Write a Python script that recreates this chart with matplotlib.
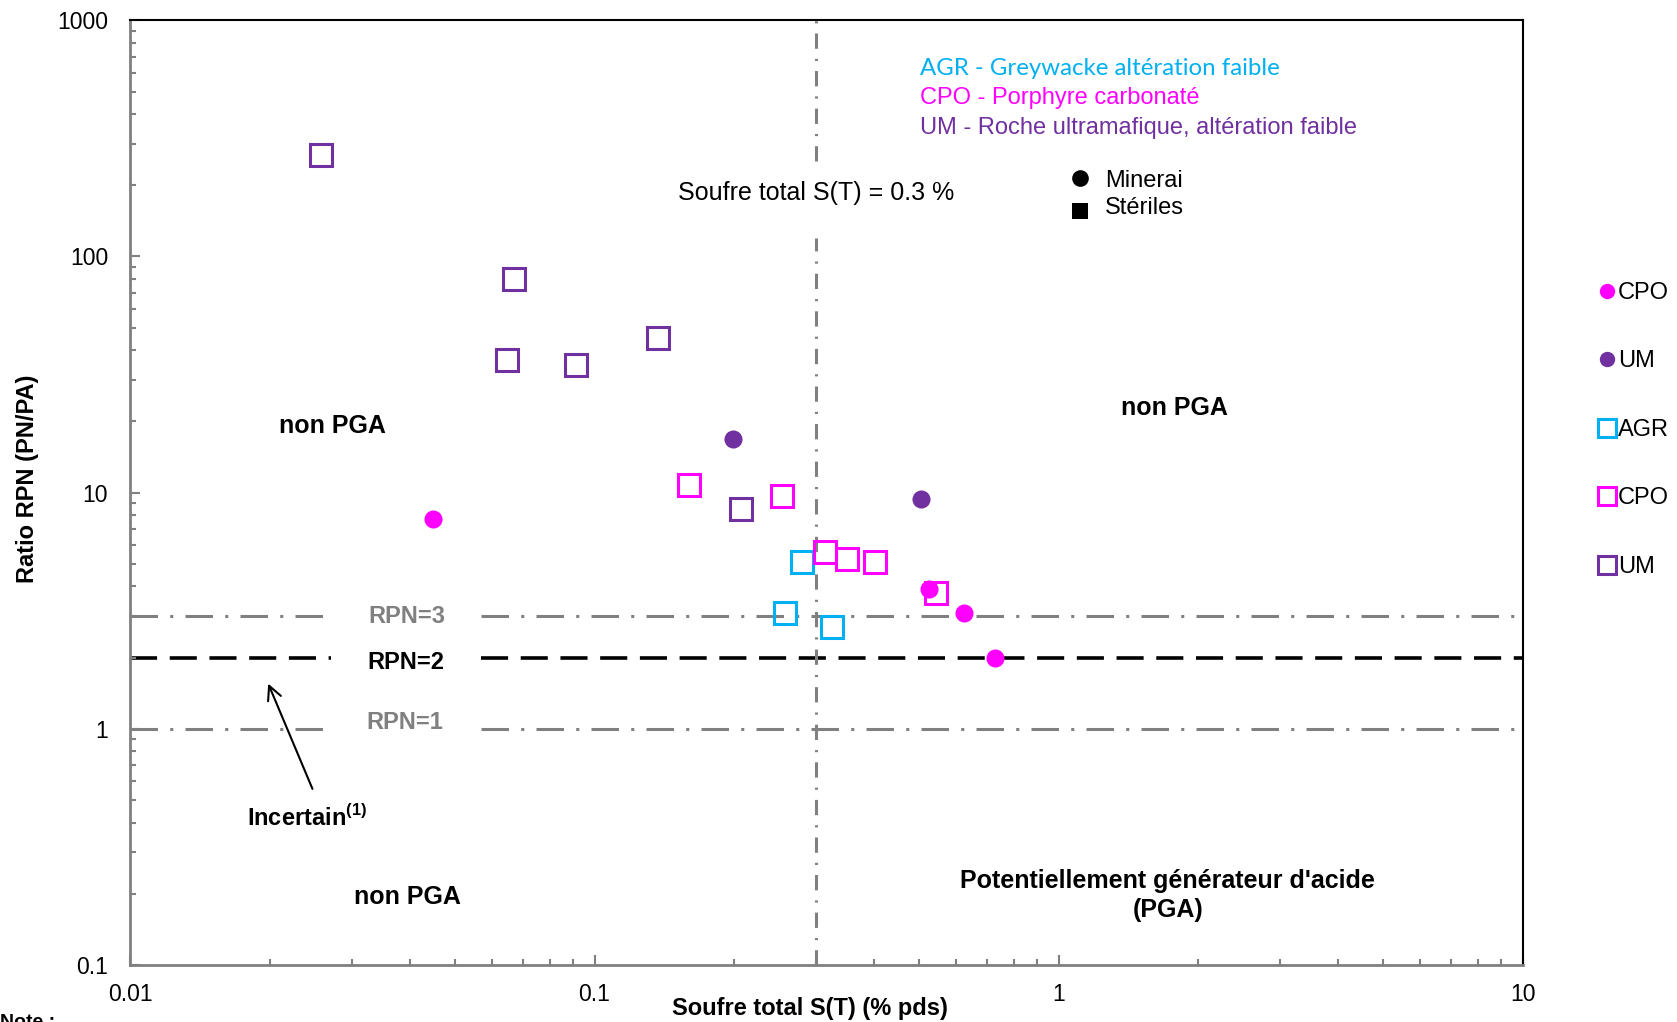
import matplotlib
matplotlib.use("Agg")
import matplotlib.pyplot as plt
from matplotlib.ticker import LogLocator, NullFormatter

plt.rcParams['font.family'] = ['Liberation Sans', 'DejaVu Sans']
plt.rcParams['mathtext.fontset'] = 'custom'
plt.rcParams['mathtext.rm'] = 'Liberation Sans'
plt.rcParams['mathtext.bf'] = 'Liberation Sans:bold'

# colours
c_agr = "#00B0F0"
c_cpo = "#FF00FF"
c_um = "#7030A0"
grey = "#808080"

# Minerai (filled circles)
cpo_min_s = [0.0449, 0.526, 0.624, 0.728]
cpo_min_rpn = [7.74, 3.89, 3.09, 2.0]
um_min_s = [0.199, 0.504]
um_min_rpn = [16.9, 9.35]

# Steriles (open squares)
agr_ste_s = [0.280, 0.257, 0.325]
agr_ste_rpn = [5.1, 3.09, 2.70]
cpo_ste_s = [0.1595, 0.253, 0.313, 0.350, 0.402, 0.543]
cpo_ste_rpn = [10.8, 9.64, 5.6, 5.21, 5.1, 3.77]
um_ste_s = [0.0258, 0.0669, 0.0647, 0.0914, 0.1368, 0.207]
um_ste_rpn = [268, 80, 36.6, 34.8, 45.2, 8.5]

s_limit = 0.3
gap = (0.027, 0.057)        # break in the RPN lines for the labels
vgap = (120, 255)           # break in the S(T) line for its label

xticks = [0.01, 0.1, 1, 10]
xlabels = ["0.01", "0.1", "1", "10"]
yticks = [0.1, 1, 10, 100, 1000]
ylabels = ["0.1", "1", "10", "100", "1000"]

fig = plt.figure(figsize=(16.77, 10.22), dpi=100)
ax = fig.add_axes([0.0778, 0.0561, 0.8302, 0.9239])
ax.set_xscale("log")
ax.set_yscale("log")
ax.set_xlim(0.01, 10)
ax.set_ylim(0.1, 1000)

# reference lines
dd = dict(color=grey, lw=2.2, zorder=1)
for y in [3, 1]:
    for a, b in [(0.01, gap[0]), (gap[1], 10)]:
        ln = ax.hlines(y, a, b, **dd)
        ln.set_dashes((0, (9, 4, 1, 4)))
for a, b in [(0.01, gap[0]), (gap[1], 10)]:
    ln = ax.hlines(2, a, b, color="black", lw=2.6, zorder=1)
    ln.set_dashes((0, (7.5, 3.5)))
for a, b in [(0.1, vgap[0]), (vgap[1], 1000)]:
    ln = ax.vlines(s_limit, a, b, **dd)
    ln.set_dashes((0, (5, 3.3, 0.7, 3.3)))

sq = dict(marker="s", ms=16, mfc="none", mew=2.2, ls="none", zorder=3)
ci = dict(marker="o", ms=13, mew=0, ls="none", zorder=4)
h1, = ax.plot(cpo_min_s, cpo_min_rpn, color=c_cpo, label="CPO", **ci)
h2, = ax.plot(um_min_s, um_min_rpn, color=c_um, label="UM", **ci)
h3, = ax.plot(agr_ste_s, agr_ste_rpn, color=c_agr, label="AGR", **sq)
h4, = ax.plot(cpo_ste_s, cpo_ste_rpn, color=c_cpo, label="CPO", **sq)
h5, = ax.plot(um_ste_s, um_ste_rpn, color=c_um, label="UM", **sq)

leg = fig.legend(handles=[h1, h2, h3, h4, h5], loc="upper left",
                 bbox_to_anchor=(0.9415, 0.745), frameon=False, fontsize=17,
                 labelspacing=1.97, handlelength=0.6, handletextpad=0.15,
                 markerscale=0.85)

# axes styling
for side in ["left", "bottom"]:
    ax.spines[side].set_color(grey)
    ax.spines[side].set_linewidth(2)
for side in ["top", "right"]:
    ax.spines[side].set_color("black")
    ax.spines[side].set_linewidth(1.5)
ax.set_xticks(xticks, xlabels)
ax.set_yticks(yticks, ylabels)
ax.xaxis.set_minor_locator(LogLocator(base=10, subs=range(2, 10)))
ax.yaxis.set_minor_locator(LogLocator(base=10, subs=range(2, 10)))
ax.xaxis.set_minor_formatter(NullFormatter())
ax.yaxis.set_minor_formatter(NullFormatter())
ax.tick_params(which="both", direction="in", color=grey, width=1.5,
               labelsize=16.5, top=False, right=False)
ax.tick_params(which="major", length=7)
ax.tick_params(which="minor", length=4)
ax.tick_params(axis="y", pad=16)
ax.tick_params(axis="x", pad=13)

ax.set_xlabel("Soufre total S(T) (% pds)", fontsize=17, fontweight="bold")
ax.xaxis.set_label_coords(0.488, -0.034)
ax.set_ylabel("Ratio RPN (PN/PA)", fontsize=17, fontweight="bold")
ax.yaxis.set_label_coords(-0.066, 0.515)

# zone labels
bold = dict(fontsize=18, fontweight="bold", ha="center", va="center")
ax.text(0.0272, 19.2, "non PGA", **bold)
ax.text(1.774, 22.9, "non PGA", **bold)
ax.text(0.0395, 0.193, "non PGA", **bold)
ax.text(1.718, 0.197, "Potentiellement générateur d'acide\n(PGA)",
        linespacing=1.25, **bold)
ax.text(0.0395, 2.98, "RPN=3", color=grey, fontsize=17, fontweight="bold",
        ha="center", va="center")
ax.text(0.0393, 1.9, "RPN=2", color="black", fontsize=17, fontweight="bold",
        ha="center", va="center")
ax.text(0.039, 1.06, "RPN=1", color=grey, fontsize=17, fontweight="bold",
        ha="center", va="center")
ax.annotate("", xy=(0.0197, 1.59), xytext=(0.0248, 0.542),
            arrowprops=dict(arrowstyle="->", color="black", lw=1.5,
                            mutation_scale=25))
ax.text(0.024, 0.42, r"Incertain$^{\mathbf{(1)}}$", fontsize=17,
        fontweight="bold", ha="center", va="center")
ax.text(s_limit, 186, "Soufre total S(T) = 0.3 %", fontsize=18,
        ha="center", va="center")

# rock type key
ax.text(0.567, 0.9486, "AGR - Greywacke altération faible", color=c_agr,
        fontsize=17.3, family=["Lato", "DejaVu Sans"], transform=ax.transAxes,
        va="center")
ax.text(0.567, 0.9176, "CPO - Porphyre carbonaté", color=c_cpo, fontsize=17,
        transform=ax.transAxes, va="center")
ax.text(0.567, 0.8866, "UM - Roche ultramafique, altération faible",
        color=c_um, fontsize=17, transform=ax.transAxes, va="center")

# symbol key
ax.plot([0.682], [0.8335], marker="o", ms=12, color="black", mew=0,
        transform=ax.transAxes, ls="none")
ax.plot([0.682], [0.798], marker="s", ms=11, color="black", mew=0,
        transform=ax.transAxes, ls="none")
ax.text(0.700, 0.830, "Minerai", fontsize=17, transform=ax.transAxes,
        va="center")
ax.text(0.700, 0.801, "Stériles", fontsize=17, transform=ax.transAxes,
        va="center")

fig.text(0.0, 0.008, "Note :", fontsize=14, fontweight="bold", va="top")

fig.savefig("out.png", dpi=100)
